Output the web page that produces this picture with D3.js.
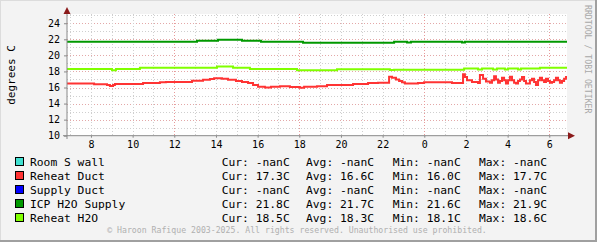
<!DOCTYPE html>
<html><head><meta charset="utf-8">
<script src="https://cdn.jsdelivr.net/npm/d3@7"></script>
<style>body{margin:0;background:#F3F3F3}svg{display:block}</style>
</head><body>
<script>
// ---- data ----
const timeDomain = [6.85, 30.85];          // hours (24+ = next day)
const yDomain = [10, 25.15];
const xTickHours = [8,10,12,14,16,18,20,22,24,26,28,30];
const xTickLabels = ["8","10","12","14","16","18","20","22","0","2","4","6"];
const yTickValues = [10,12,14,16,18,20,22,24];
const seriesNames = ["Room S wall","Reheat Duct","Supply Duct","ICP H2O Supply","Reheat H2O"];
const seriesColors = ["#40E0D0","#FF3333","#0000FF","#009900","#80FF00"];
const curValues = ["-nanC","17.3C","-nanC","21.8C","18.5C"];
const avgValues = ["-nanC","16.6C","-nanC","21.7C","18.3C"];
const minValues = ["-nanC","16.0C","-nanC","21.6C","18.1C"];
const maxValues = ["-nanC","17.7C","-nanC","21.9C","18.6C"];

const icpHours  = [6.85,13.09,14.10,15.25,16.16,18.18,22.55,23.17,23.36,25.81,25.95,30.85];
const icpValues = [21.7,21.83,21.95,21.83,21.7,21.58,21.7,21.6,21.7,21.6,21.7,21.7];

const rh2oHours  = [6.85,9.01,9.20,10.35,14.05,14.82,15.63,17.89,19.81,22.35,22.55,25.91,26.58,26.77,27.30,27.49,27.87,28.02,28.50,28.64,29.55,30.85];
const rh2oValues = [18.3,18.15,18.3,18.45,18.62,18.47,18.3,18.14,18.27,18.17,18.2,18.35,18.25,18.35,18.25,18.35,18.25,18.35,18.25,18.35,18.47,18.47];

const ductHours = [6.85,8.15,8.77,8.91,9.06,9.15,10.5,11.31,11.6,12.85,13.38,13.71,13.91,14.29,14.58,14.96,15.25,15.54,15.78,16.02,16.35,16.64,17.07,17.55,18.03,18.23,18.85,19.33,20.58,21.3,21.78,22.31,22.45,22.64,22.79,22.93,23.07,23.70,23.99,25.33,25.81,25.86,25.95,26.05,26.29,26.58,26.67,26.82,26.96,27.15,
  27.25,27.35,27.44,27.54,27.63,27.73,27.83,27.92,28.02,28.11,28.21,28.31,28.40,28.50,28.59,28.69,28.79,28.88,28.98,29.07,29.17,29.27,29.36,29.46,29.55,29.65,29.75,29.84,29.94,30.03,30.13,30.23,30.32,30.42,30.51,30.61,30.71,30.80,30.85];
const ductValues = [16.5,16.4,16.3,16.2,16.3,16.45,16.55,16.65,16.7,16.85,16.95,17.05,17.15,17.1,16.95,16.8,16.7,16.55,16.3,16.1,16.0,16.1,16.15,16.05,15.98,16.1,16.15,16.3,16.45,16.55,16.6,17.35,17.2,17.0,16.8,16.65,16.5,16.55,16.65,16.55,16.55,17.65,17.3,16.9,16.7,16.55,17.55,17.1,16.75,16.6,
  16.9,17.4,17.0,16.6,16.8,17.2,16.9,16.5,16.9,17.35,16.9,16.6,16.5,16.8,17.0,17.3,16.8,16.5,16.5,16.9,17.1,16.7,16.3,16.9,17.2,16.9,16.7,17.1,16.8,16.6,16.7,16.9,17.2,16.9,16.6,16.8,17.1,17.3,17.3];

// ---- chart ----
const W = 597, H = 242;
const svg = d3.select("body").append("svg").attr("width", W).attr("height", H);
svg.append("rect").attr("width", W).attr("height", H).attr("fill", "#F3F3F3");
// frame shading
svg.append("rect").attr("x", 0).attr("y", 0).attr("width", W).attr("height", 1).attr("fill", "#DCDCDC");
svg.append("rect").attr("x", 0).attr("y", 0).attr("width", 1).attr("height", H).attr("fill", "#DCDCDC");
svg.append("rect").attr("x", W-2).attr("y", 0).attr("width", 2).attr("height", H).attr("fill", "#A0A0A0");
svg.append("rect").attr("x", 0).attr("y", H-2).attr("width", W).attr("height", 2).attr("fill", "#A0A0A0");

const x0 = 67, x1 = 567, yb = 135.7, yt = 14;
const x = d3.scaleLinear().domain(timeDomain).range([x0, x1]);
const y = d3.scaleLinear().domain(yDomain).range([yb, yt]);

svg.append("rect").attr("x", x0).attr("y", yt).attr("width", x1 - x0).attr("height", yb - yt).attr("fill", "#FFFFFF");

const mono = "'DejaVu Sans Mono', monospace";
const grid = svg.append("g").attr("shape-rendering", "crispEdges");
// horizontal grid, each degree
d3.range(11, 26).forEach(v => {
  const major = v % 2 === 0;
  grid.append("line").attr("x1", x0).attr("x2", x1).attr("y1", Math.round(y(v)) + 0.5).attr("y2", Math.round(y(v)) + 0.5)
    .attr("stroke", major ? "#E3A8A8" : "#CFCFCF").attr("stroke-dasharray", "1,2");
});
// vertical grid, each hour
d3.range(7, 31).forEach(h => {
  const major = h % 6 === 0;
  grid.append("line").attr("y1", yt).attr("y2", yb).attr("x1", Math.round(x(h)) + 0.5).attr("x2", Math.round(x(h)) + 0.5)
    .attr("stroke", major ? "#E89A9A" : "#CFCFCF").attr("stroke-dasharray", "1,2");
});

// series lines
const line = d3.line().x(d => x(d[0])).y(d => y(d[1])).curve(d3.curveStepAfter);
const series = [
  {hours: rh2oHours, values: rh2oValues, color: seriesColors[4]},
  {hours: icpHours, values: icpValues, color: seriesColors[3]},
  {hours: ductHours, values: ductValues, color: seriesColors[1]}
];
series.forEach(s => {
  svg.append("path").datum(d3.zip(s.hours, s.values)).attr("d", line)
    .attr("fill", "none").attr("stroke", s.color).attr("stroke-width", 2);
});

// axes
const yAxis = d3.axisLeft(y).tickValues(yTickValues).tickSize(3).tickPadding(4).tickFormat(d3.format("d"));
const gy = svg.append("g").attr("transform", `translate(${x0},0)`).call(yAxis);
const xAxis = d3.axisBottom(x).tickValues(xTickHours).tickSize(2).tickPadding(3.5).tickFormat((d, i) => xTickLabels[i]);
const gx = svg.append("g").attr("transform", `translate(0,${yb})`).call(xAxis);
[gx, gy].forEach(g => {
  g.select(".domain").remove();
  g.selectAll(".tick line").attr("stroke", "#888");
  g.selectAll(".tick text").attr("font-family", mono).attr("font-size", "10px").attr("fill", "#000");
});
svg.append("line").attr("x1", 63).attr("x2", 569).attr("y1", yb).attr("y2", yb).attr("stroke", "#888").attr("stroke-width", 1);
svg.append("line").attr("x1", x0).attr("x2", x0).attr("y1", 139).attr("y2", 12).attr("stroke", "#888").attr("stroke-width", 1);
svg.append("path").attr("d", `M568,${yb-3.5}L575,${yb}L568,${yb+3.5}Z`).attr("fill", "#8B1A1A");
svg.append("path").attr("d", `M${x0-3.5},14L${x0},7L${x0+3.5},14Z`).attr("fill", "#8B1A1A");

// y title
svg.append("text").attr("transform", "translate(15,75) rotate(-90)").attr("text-anchor", "middle")
  .attr("font-family", mono).attr("font-size", "11px").attr("fill", "#000").text("degrees C");

// watermark
svg.append("text").attr("transform", "translate(585,5) rotate(90)").attr("font-family", mono)
  .attr("font-size", "8.2px").attr("fill", "#A8A8A8").text("RRDTOOL / TOBI OETIKER");

// legend
const lg = svg.append("g").attr("font-family", mono).attr("font-size", "11.3px").attr("fill", "#000");
const colX = [221.7, 306, 392.7, 479];
seriesNames.forEach((n, i) => {
  const by = 165.5 + i * 14;
  lg.append("rect").attr("x", 15.5).attr("y", by - 8).attr("width", 8).attr("height", 8)
    .attr("fill", seriesColors[i]).attr("stroke", "#000").attr("stroke-width", 1);
  lg.append("text").attr("x", 30).attr("y", by).text(n);
  lg.append("text").attr("x", colX[0]).attr("y", by).text("Cur: " + curValues[i]);
  lg.append("text").attr("x", colX[1]).attr("y", by).text("Avg: " + avgValues[i]);
  lg.append("text").attr("x", colX[2]).attr("y", by).text("Min: " + minValues[i]);
  lg.append("text").attr("x", colX[3]).attr("y", by).text("Max: " + maxValues[i]);
});

svg.append("text").attr("x", 297).attr("y", 233).attr("text-anchor", "middle").attr("font-family", mono)
  .attr("font-size", "8.2px").attr("fill", "#B0B0B0")
  .text("© Haroon Rafique 2003-2025. All rights reserved. Unauthorised use prohibited.");
</script>
</body></html>
